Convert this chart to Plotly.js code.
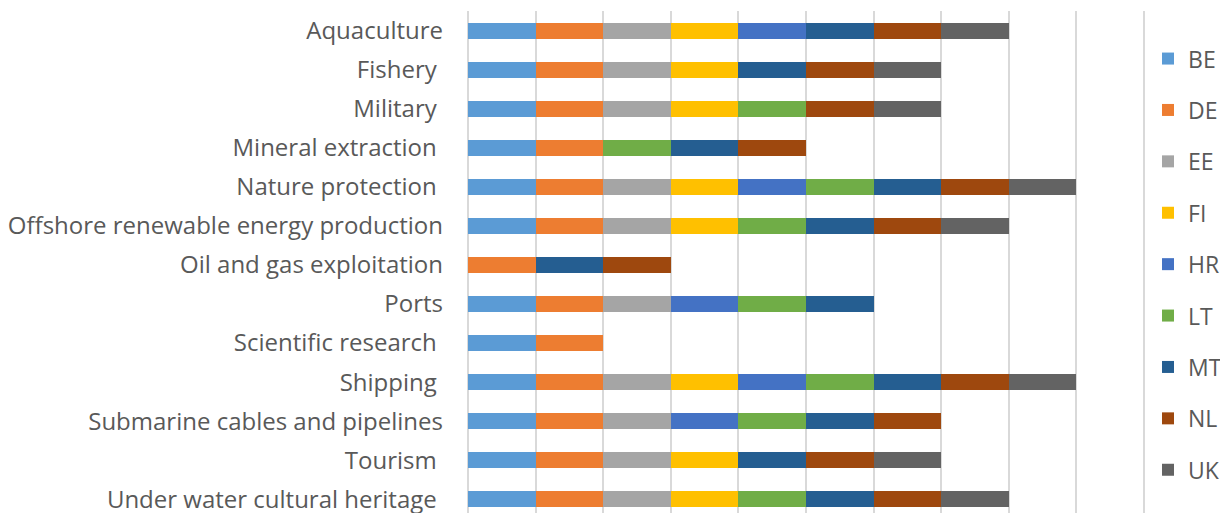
<!DOCTYPE html>
<html>
<head>
<meta charset="utf-8">
<script src="https://cdn.plot.ly/plotly-3.0.1.min.js"></script>
<style>html,body{margin:0;padding:0;background:#fff;}#chart{width:1220px;height:513px;}</style>
</head>
<body>
<div id="chart"></div>
<script>
const categories = [
  "Aquaculture",
  "Fishery\u00a0",
  "Military\u00a0",
  "Mineral extraction\u00a0",
  "Nature protection\u00a0",
  "Offshore renewable energy production",
  "Oil and gas exploitation",
  "Ports",
  "Scientific research\u00a0",
  "Shipping\u00a0",
  "Submarine cables and pipelines",
  "Tourism\u00a0",
  "Under water cultural heritage\u00a0"
];
const countries = ["BE", "DE", "EE", "FI", "HR", "LT", "MT", "NL", "UK"];
const BE = [1, 1, 1, 1, 1, 1, 0, 1, 1, 1, 1, 1, 1];
const DE = [1, 1, 1, 1, 1, 1, 1, 1, 1, 1, 1, 1, 1];
const EE = [1, 1, 1, 0, 1, 1, 0, 1, 0, 1, 1, 1, 1];
const FI = [1, 1, 1, 0, 1, 1, 0, 0, 0, 1, 0, 1, 1];
const HR = [1, 0, 0, 0, 1, 0, 0, 1, 0, 1, 1, 0, 0];
const LT = [0, 0, 1, 1, 1, 1, 0, 1, 0, 1, 1, 0, 1];
const MT = [1, 1, 0, 1, 1, 1, 1, 1, 0, 1, 1, 1, 1];
const NL = [1, 1, 1, 1, 1, 1, 1, 0, 0, 1, 1, 1, 1];
const UK = [1, 1, 1, 0, 1, 1, 0, 0, 0, 1, 0, 1, 1];
const seriesValues = [BE, DE, EE, FI, HR, LT, MT, NL, UK];
const colors = ["#5B9BD5", "#ED7D31", "#A5A5A5", "#FFC000", "#4472C4", "#70AD47", "#255E91", "#9E480E", "#636363"];

const traces = countries.map((c, i) => ({
  type: "bar",
  orientation: "h",
  name: c,
  x: seriesValues[i],
  y: categories,
  legendgroup: c,
  marker: {color: colors[i], line: {width: 0}},
  hoverinfo: "skip"
}));

const layout = {
  width: 1220,
  height: 513,
  barmode: "stack",
  bargap: 0.59,
  margin: {l: 466, r: 74, t: 11, b: 0, pad: 0},
  paper_bgcolor: "#ffffff",
  plot_bgcolor: "#ffffff",
  font: {family: "Open Sans, sans-serif", color: "#595959"},
  xaxis: {
    range: [-0.03, 10.03],
    dtick: 1,
    tick0: 0,
    showgrid: true,
    gridcolor: "#D9D9D9",
    gridwidth: 2,
    zeroline: false,
    showline: false,
    showticklabels: false,
    ticks: "",
    fixedrange: true
  },
  yaxis: {
    type: "category",
    categoryorder: "array",
    categoryarray: categories,
    range: [12.35, -0.5],
    showgrid: false,
    zeroline: false,
    showline: false,
    ticks: "",
    ticklabelstandoff: 22,
    tickfont: {size: 24, color: "#595959", family: "Open Sans, sans-serif"},
    automargin: false,
    fixedrange: true
  },
  showlegend: true,
  legend: {
    xref: "container",
    x: 0.941,
    xanchor: "left",
    yref: "paper",
    y: 0.948,
    yanchor: "top",
    traceorder: "grouped",
    tracegroupgap: 18.5,
    font: {size: 23, color: "#595959", family: "Open Sans, sans-serif"},
    bgcolor: "rgba(0,0,0,0)",
    itemwidth: 30
  }
};

Plotly.newPlot("chart", traces, layout, {displayModeBar: false, staticPlot: true});
</script>
</body>
</html>
